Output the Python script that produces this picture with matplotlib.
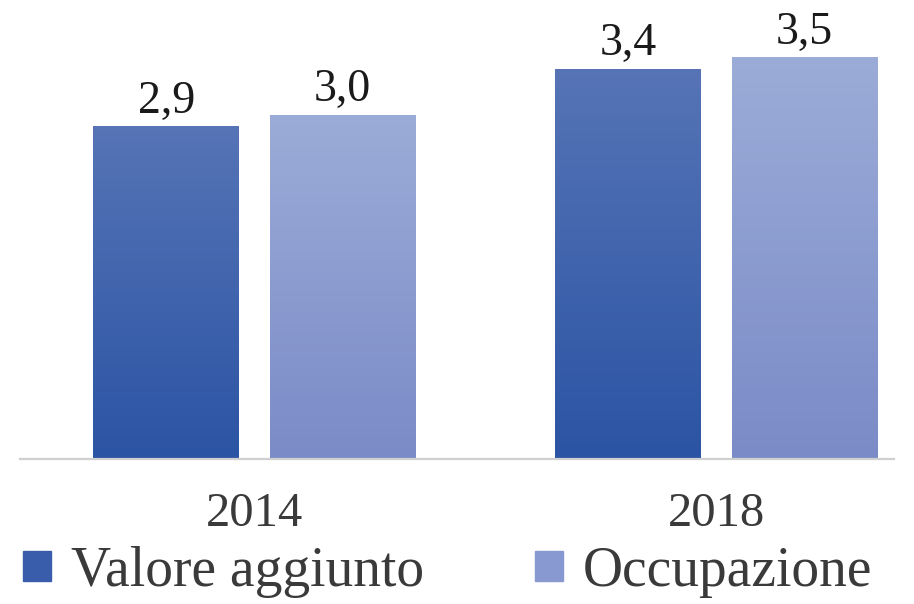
import numpy as np
import matplotlib
matplotlib.use("Agg")
import matplotlib.pyplot as plt
from matplotlib.patches import Patch
from matplotlib.colors import LinearSegmentedColormap

years = ["2014", "2018"]
series_names = ["Valore aggiunto", "Occupazione"]
valore_aggiunto = [2.9, 3.4]
occupazione = [3.0, 3.5]
labels_va = ["2,9", "3,4"]
labels_occ = ["3,0", "3,5"]

plt.rcParams['font.family'] = ['Liberation Serif', 'DejaVu Serif']

fig = plt.figure(figsize=(9.14, 6.04), dpi=100)
ax = fig.add_axes([0.0, 0.24, 1.0, 0.76])

width = 0.316
off = 0.191
x = np.arange(len(years))

dark_cmap = LinearSegmentedColormap.from_list("d", ["#2b54a4", "#5674b6"])
light_cmap = LinearSegmentedColormap.from_list("l", ["#7a8bc7", "#9cacd8"])

def grad_bar(xc, h, cmap, lab):
    bar = ax.bar(xc, h, width=width, color="none", edgecolor="none")[0]
    grad = np.linspace(0, 1, 256).reshape(-1, 1)
    im = ax.imshow(grad, cmap=cmap, aspect="auto", origin="lower",
                   extent=[xc - width / 2, xc + width / 2, 0, h], zorder=2)
    im.set_clip_path(bar)
    ax.text(xc, h + 0.03, lab, ha="center", va="bottom", fontsize=33, color="#1a1a1a")

for i in range(len(years)):
    grad_bar(x[i] - off, valore_aggiunto[i], dark_cmap, labels_va[i])
    grad_bar(x[i] + off, occupazione[i], light_cmap, labels_occ[i])

ax.set_xlim(-0.551, 1.4275)
ax.set_ylim(0, 4.0)
ax.set_xticks(x)
ax.set_xticklabels(years, fontsize=35, color="#3a3a3a")
ax.tick_params(axis="x", length=0, pad=24)
ax.set_yticks([])
for s in ["top", "right", "left"]:
    ax.spines[s].set_visible(False)
ax.spines["bottom"].set_color("#d0d0d0")
ax.spines["bottom"].set_linewidth(1.6)
ax.spines["bottom"].set_bounds(-0.508, 1.384)

handles = [Patch(color="#3a5dab"), Patch(color="#8898d0")]
fig.legend(handles, series_names, loc="lower center", bbox_to_anchor=(0.49, -0.036),
           ncol=2, frameon=False, fontsize=40, handlelength=0.5, handleheight=0.45,
           handletextpad=0.36, columnspacing=2.0, borderpad=0, labelcolor="#3a3a3a")

fig.savefig("out.png", dpi=100)
